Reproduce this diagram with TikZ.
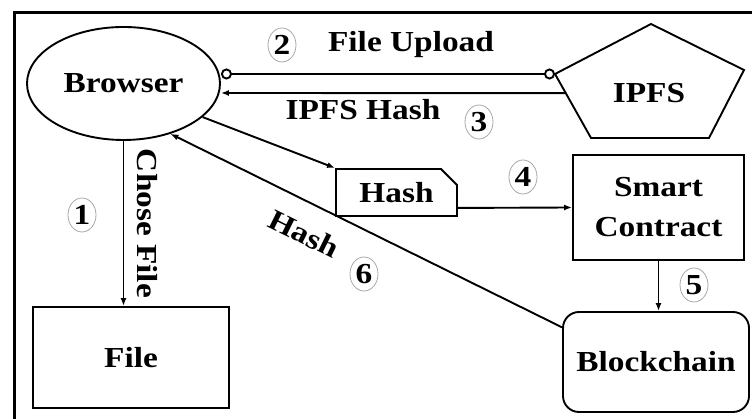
\documentclass[tikz,border=0pt]{standalone}
\usepackage{fontspec}
\setmainfont{Liberation Serif}[FakeStretch=1.15]
\usetikzlibrary{shapes.geometric,shapes.misc,calc,arrows.meta}

\begin{document}
\begin{tikzpicture}[x=1pt, y=1pt, line width=1.9pt,
    every node/.style={font=\fontsize{29}{33}\selectfont\bfseries},
    box/.style={draw, rectangle, inner sep=0pt},
    num/.style={draw=gray!70, line width=0.8pt, ellipse, minimum width=28pt, minimum height=34pt, inner sep=0pt},
    arr/.style={-{Latex[length=8pt, width=6pt]}},
    ends/.style={{Circle[open, length=11pt]}-{Circle[open, length=11pt]}}]
    \useasboundingbox (0,0) rectangle (752,419);
    % Frame
    \draw[line width=3pt] (752,406) -- (14,406) -- (14,0);
    % Nodes
    \node [draw, ellipse, minimum width=193pt, minimum height=113pt] (browser) at (123.5,335.5) {Browser};
    \node [box, minimum width=196pt, minimum height=101pt] (file) at (131,61.5) {File};
    \node [draw, chamfered rectangle, chamfered rectangle corners=north east, chamfered rectangle xsep=8pt, chamfered rectangle ysep=8pt, inner sep=0pt, minimum width=121pt, minimum height=47pt] (hash) at (396.5,226.5) {Hash};
    \node [box, align=center, minimum width=171pt, minimum height=105pt] (smart) at (658.5,211.5) {Smart\\[7pt]Contract};
    \node [box, rounded corners=16pt, minimum width=186pt, minimum height=100pt] (chain) at (656,57) {Blockchain};
    % IPFS pentagon
    \coordinate (pT) at (651,395);
    \coordinate (pR) at (744,349);
    \coordinate (pBR) at (709,281);
    \coordinate (pBL) at (591,281);
    \coordinate (pL) at (555,345);
    \draw (pT) -- (pR) -- (pBR) -- (pBL) -- (pL) -- cycle;
    \node (ipfs) at (649,326) {IPFS};
    % Arrows
    \draw [ends] ([yshift=9.5pt]browser.east) -- (pL);
    \draw [arr] ($(pL)!0.3!(pBL)$) -- ([yshift=-9.5pt]browser.east);
    \draw [arr] (browser.south) -- (browser.south |- file.north)
        node [midway, rotate=-90, anchor=south, inner sep=13pt] (chose) {Chose File};
    \draw [arr] (browser.-23) -- (hash.north west);
    \draw [arr] ([yshift=9pt]hash.south east) -- (smart.west);
    \draw [arr] (smart.south) -- (smart.south |- chain.north);
    \draw [arr] ($(chain.north west)!0.16!(chain.south west)$) -- (browser.-47)
        node [pos=0.625, sloped, below=16pt] (back) {Hash};
    % Labels
    \node (upload) at (411,374) {File Upload};
    \node (ipfshash) at (363,309) {IPFS Hash};
    \node [num] (n1) at (82,204) {1};
    \node [num] (n2) at (282,374) {2};
    \node [num] (n3) at (479,297) {3};
    \node [num] (n4) at (523,242) {4};
    \node [num] (n5) at (694,134) {5};
    \node [num] (n6) at (364,145) {6};
\end{tikzpicture}
\end{document}
